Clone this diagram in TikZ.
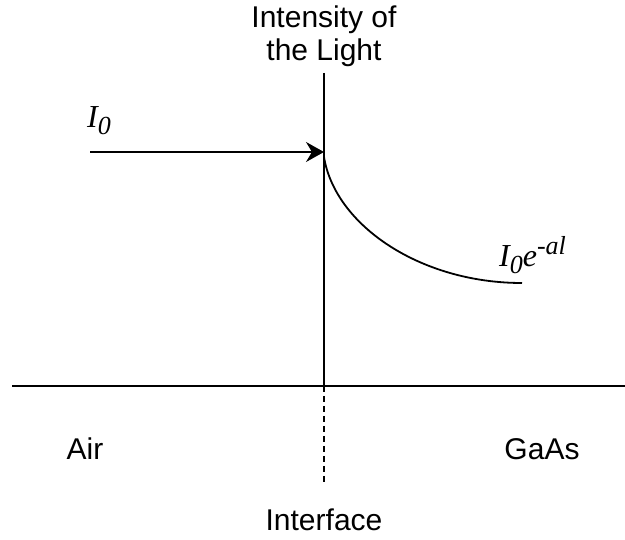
\documentclass[tikz,border=0pt]{standalone}
\usepackage{fontspec}
\setmainfont{Liberation Sans}
\newfontfamily\tnr{Liberation Serif}
\usetikzlibrary{arrows.meta,calc}
\tikzset{
  ax/.style={line width=1.8pt, black},
  ray/.style={line width=1.8pt, -{Stealth[length=18pt, width=20pt, inset=6pt]}},
  iface/.style={line width=1.8pt, dash pattern=on 6pt off 4pt},
  lbl/.style={font=\fontsize{30}{33}\selectfont, inner sep=0pt, align=center},
  eq/.style={font=\tnr\itshape\fontsize{32}{34}\selectfont, inner sep=0pt, anchor=base west},
}
\newcommand{\subsz}[1]{\raisebox{-7pt}{\fontsize{26}{28}\selectfont #1}}
\newcommand{\supsz}[1]{\raisebox{12pt}{\fontsize{26}{28}\selectfont #1}}
\begin{document}
\begin{tikzpicture}[x=1pt, y=-1pt]
  \useasboundingbox (0,0) rectangle (625,540);
  % axes
  \coordinate (top) at (324,73);
  \coordinate (org) at (324,386);
  \coordinate (lft) at (12,386);
  \coordinate (rgt) at (625,386);
  \coordinate (dend) at (324,483);
  \draw[ax] (top) -- (org);
  \draw[ax] (lft) -- (rgt);
  \draw[iface] (org) -- (dend);
  % incoming light
  \coordinate (src) at (90,152);
  \coordinate (hit) at (324,152);
  \draw[ray] (src) -- (hit);
  % decay in the GaAs
  \coordinate (c0) at (324,157);
  \coordinate (c1) at (522,283);
  \draw[ax] (c0) .. controls (335,225) and (420,283) .. (c1);
  % labels
  \node[lbl] (ttl) at (324,36) {Intensity of\\the Light};
  \node[eq] (i0) at (87,128) {I\subsz{0}};
  \node[eq] (ie) at (499,267) {I\subsz{0}e\supsz{-al}};
  \node[lbl, anchor=base] (air) at (85,460) {Air};
  \node[lbl, anchor=base] (gaas) at (542,460) {GaAs};
  \node[lbl, anchor=base] (intf) at (324,531) {Interface};
\end{tikzpicture}
\end{document}
